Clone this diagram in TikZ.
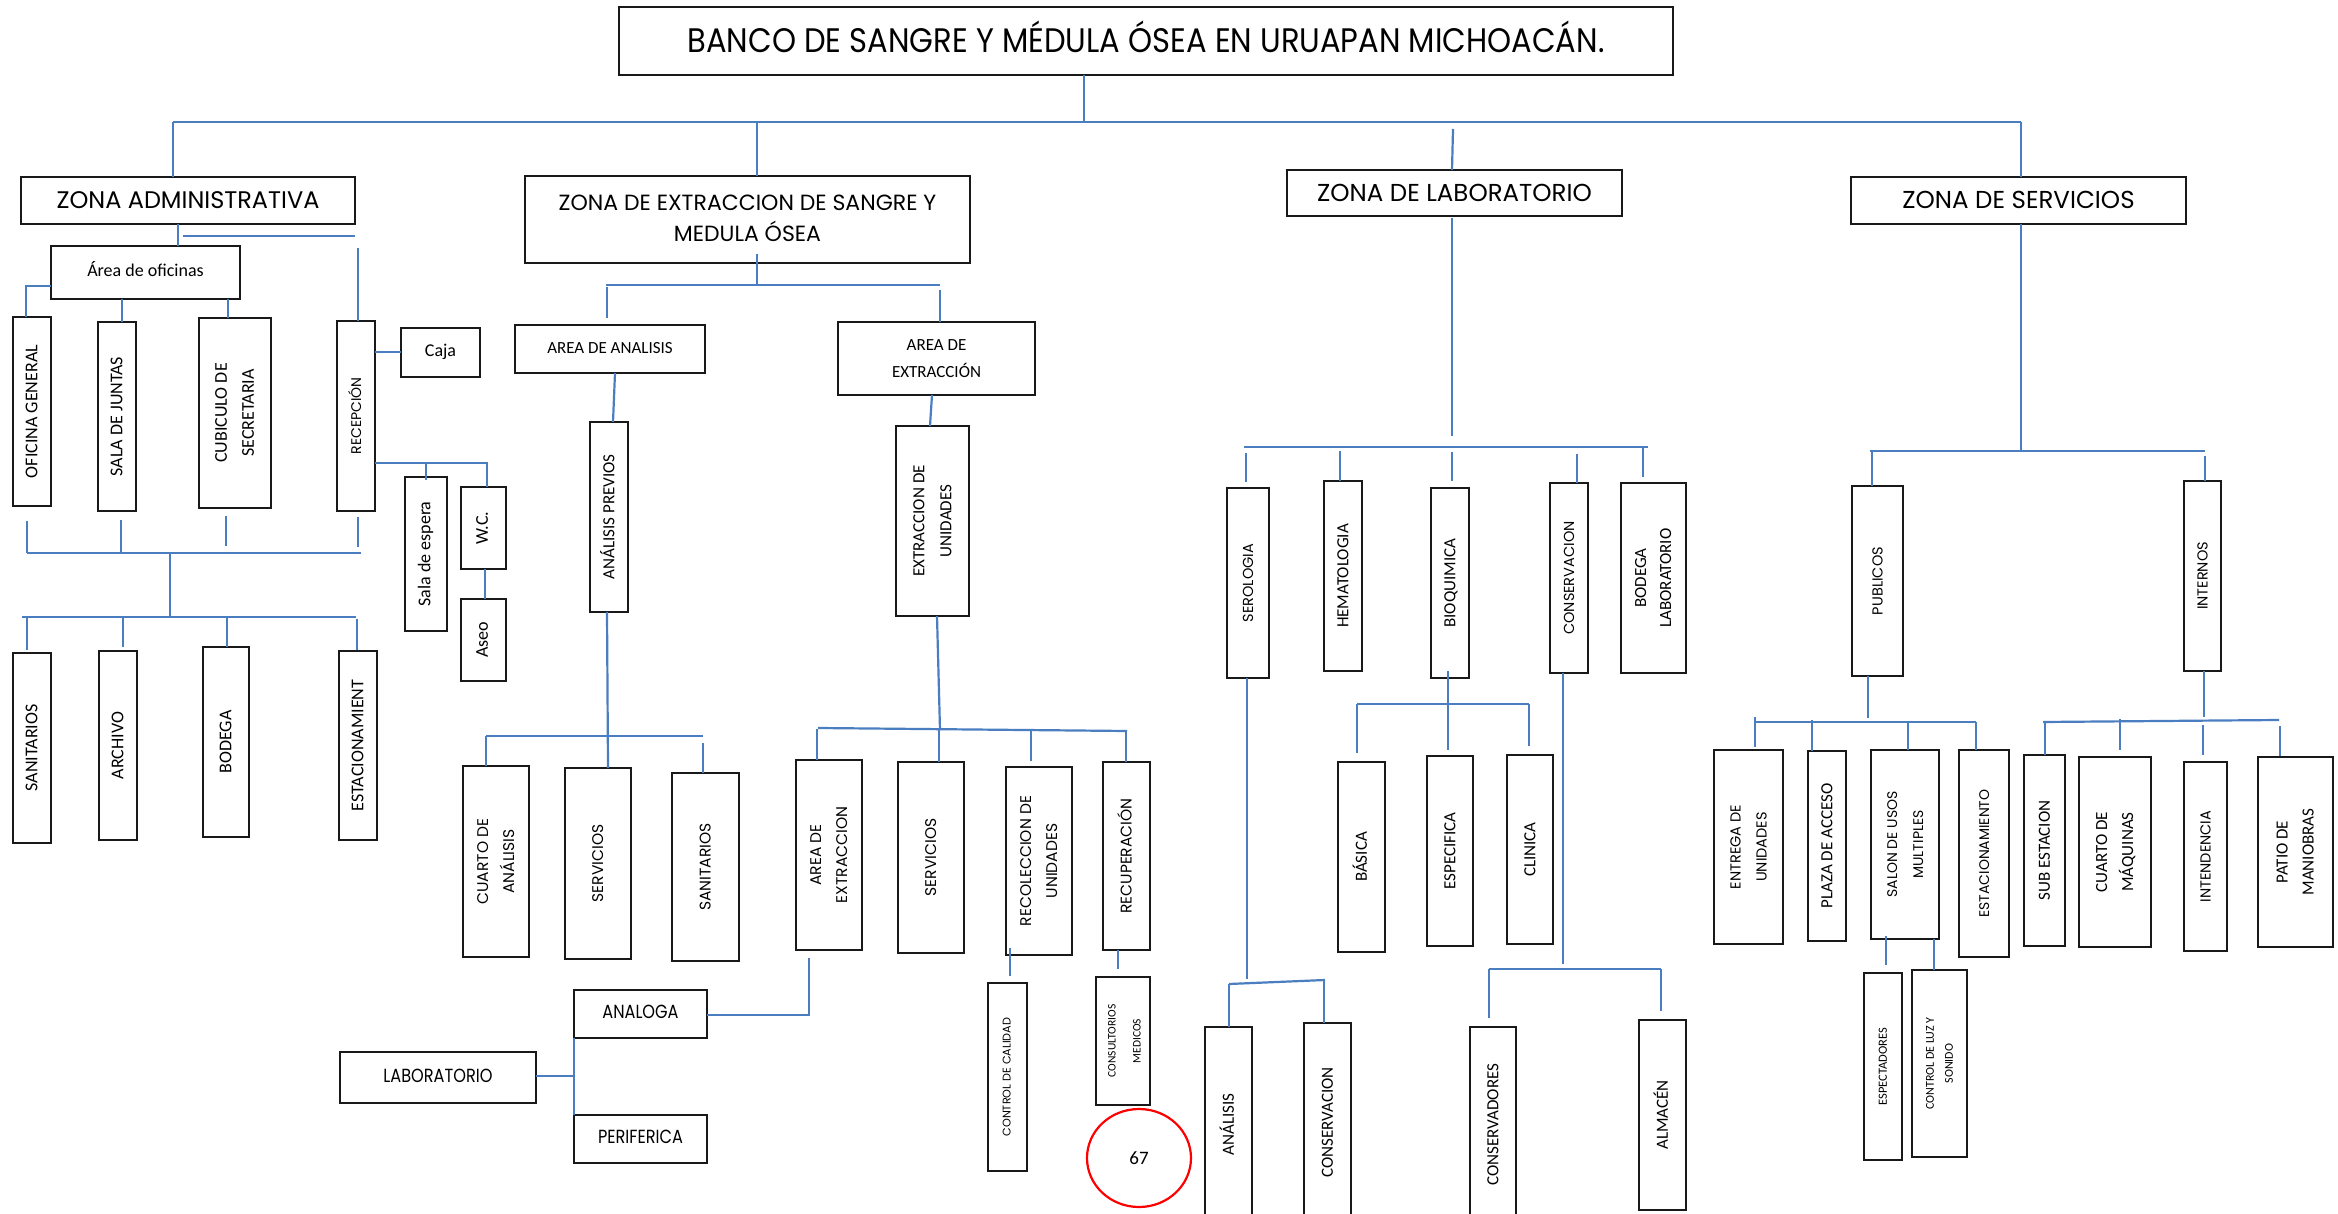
\documentclass[tikz,border=0pt]{standalone}
\usepackage{fontspec}
\setmainfont{Carlito}
\newfontfamily\gothic{Poppins}
\usepackage{graphicx}
\usetikzlibrary{shapes.geometric}
\newcommand\fc[2]{\fontsize{#1}{#2}\selectfont}
\newcommand\fg[2]{\gothic\fontsize{#1}{#2}\selectfont}
\definecolor{lineblue}{RGB}{74,126,193}
\tikzset{
  room/.style={draw=black!90, line width=1.7pt, inner sep=0pt, outer sep=0pt},
  link/.style={draw=lineblue, line width=2.2pt},
}
% box given by its corners, text turned upright
\newcommand\roomv[7]{\node[room, minimum width={(#5-#3)*1pt}, minimum height={(#6-#4)*1pt}] (#1) at ({(#3+#5)/2},{(#4+#6)/2}) {\rotatebox{90}{#2\begin{tabular}{@{}c@{}}#7\end{tabular}}};}
% box given by its corners, horizontal text
\newcommand\roomh[7]{\node[room, minimum width={(#5-#3)*1pt}, minimum height={(#6-#4)*1pt}] (#1) at ({(#3+#5)/2},{(#4+#6)/2}) {#2\begin{tabular}{@{}c@{}}#7\end{tabular}};}
\begin{document}
\begin{tikzpicture}[x=1pt,y=-1pt]
\fill[white] (0,0) rectangle (2338,1214);
\useasboundingbox (0,0) rectangle (2338,1214);

% ---------- title and zones ----------
\roomh{title}{\fg{34}{58}}{619}{7}{1673}{75}{\scalebox{0.9}[1]{BANCO DE SANGRE Y MÉDULA ÓSEA EN URUAPAN MICHOACÁN.}}
\roomh{zadm}{\fg{24}{42}}{21}{177}{355}{224}{ZONA ADMINISTRATIVA}
\roomh{zext}{\fg{22}{31}}{525}{176}{970}{263}{ZONA DE EXTRACCION DE SANGRE Y\\MEDULA ÓSEA}
\roomh{zlab}{\fg{24.5}{42}}{1287}{170}{1622}{216}{ZONA DE LABORATORIO}
\roomh{zser}{\fg{24.5}{42}}{1851}{177}{2186}{224}{ZONA DE SERVICIOS}

\draw[link] (1084,0 |- title.south) -- (1084,122);
\draw[link] (173,122) -- (2021,122);
\draw[link] (173,122) -- (173,0 |- zadm.north);
\draw[link] (757,122) -- (757,0 |- zext.north);
\draw[link] (1453,129) -- (1452,0 |- zlab.north);
\draw[link] (2021,122) -- (2021,0 |- zser.north);

% ---------- zona administrativa ----------
\roomh{areaof}{\fc{18}{22}}{51}{246}{240}{299}{Área de oficinas}
\roomv{ofgen}{\fc{18}{27}}{13}{317}{51}{506}{OFICINA GENERAL}
\roomv{sjunt}{\fc{18}{27}}{98}{322}{136}{511}{SALA DE JUNTAS}
\roomv{cubic}{\fc{18}{27}}{199}{318}{271}{508}{CUBICULO DE\\SECRETARIA}
\roomv{recep}{\fg{14}{26}}{337}{321}{375}{511}{RECEPCIÓN}
\roomh{caja}{\fc{18}{22}}{401}{328}{480}{377}{Caja}
\roomv{espera}{\fc{18}{22}}{405}{477}{447}{631}{Sala de espera}
\roomv{wc}{\fc{18}{22}}{461}{487}{506}{569}{W.C.}
\roomv{aseo}{\fc{18}{22}}{461}{599}{506}{681}{Aseo}
\roomv{sanit}{\fc{18}{27}}{13}{653}{51}{843}{SANITARIOS}
\roomv{archi}{\fc{18}{27}}{99}{651}{137}{840}{ARCHIVO}
\roomv{bodeg}{\fc{18}{27}}{203}{647}{249}{837}{BODEGA}
\roomv{estac}{\fc{18}{27}}{339}{651}{377}{840}{ESTACIONAMIENT}

\draw[link] (178,0 |- zadm.south) -- (178,0 |- areaof.north);
\draw[link] (183,236) -- (355,236);
\draw[link] (358,248) -- (358,0 |- recep.north);
\draw[link] (areaof.west |- 0,286) -- (26,286) -- (26,0 |- ofgen.north);
\draw[link] (122,0 |- areaof.south) -- (122,0 |- sjunt.north);
\draw[link] (228,0 |- areaof.south) -- (228,0 |- cubic.north);
\draw[link] (recep.east |- 0,352) -- (caja.west |- 0,352);
\draw[link] (recep.east |- 0,463) -- (487,463) -- (487,0 |- wc.north);
\draw[link] (426,463) -- (426,480);
\draw[link] (485,0 |- wc.south) -- (485,0 |- aseo.north);
\draw[link] (27,521) -- (27,553);
\draw[link] (121,520) -- (121,553);
\draw[link] (226,516) -- (226,546);
\draw[link] (358,517) -- (358,547);
\draw[link] (27,553) -- (361,553);
\draw[link] (170,553) -- (170,617);
\draw[link] (22,617) -- (356,617);
\draw[link] (27,617) -- (27,650);
\draw[link] (123,617) -- (123,647);
\draw[link] (227,617) -- (227,0 |- bodeg.north);
\draw[link] (357,619) -- (357,650);

% ---------- zona de extraccion ----------
\roomh{aanal}{\fc{17}{22}}{515}{325}{705}{373}{AREA DE ANALISIS}
\roomh{aextr}{\fc{17}{27}}{838}{322}{1035}{395}{AREA DE\\EXTRACCIÓN}
\roomv{aprev}{\fc{17}{27}}{590}{422}{628}{612}{ANÁLISIS PREVIOS}
\roomv{extun}{\fc{17}{27}}{896}{426}{969}{616}{EXTRACCION DE\\UNIDADES}
\roomv{cuart}{\fg{15.5}{26}}{463}{766}{529}{957}{CUARTO DE\\ANÁLISIS}
\roomv{serva}{\fg{15.5}{26}}{565}{768}{631}{959}{SERVICIOS}
\roomv{sanb}{\fg{15.5}{26}}{672}{773}{739}{961}{SANITARIOS}
\roomv{arex}{\fg{15.5}{26}}{796}{760}{862}{950}{AREA DE\\EXTRACCION}
\roomv{servb}{\fg{15.5}{26}}{898}{762}{964}{953}{SERVICIOS}
\roomv{recol}{\fg{15.5}{26}}{1006}{767}{1072}{955}{RECOLECCION DE\\UNIDADES}
\roomv{recup}{\fg{15.5}{26}}{1103}{762}{1150}{950}{RECUPERACIÓN}
\roomh{analo}{\fg{19}{24}}{574}{990}{707}{1038}{\scalebox{0.85}[1]{ANALOGA}}
\roomh{labo}{\fg{19}{24}}{340}{1052}{536}{1103}{\scalebox{0.85}[1]{LABORATORIO}}
\roomh{perif}{\fg{19}{24}}{574}{1115}{707}{1163}{\scalebox{0.85}[1]{PERIFERICA}}
\roomv{ccal}{\fg{11.2}{15}}{988}{983}{1027}{1171}{CONTROL DE CALIDAD}
\roomv{consu}{\fc{11.5}{25}}{1096}{977}{1150}{1105}{CONSULTORIOS\\MEDICOS}
\node[draw=red, line width=2.2pt, ellipse, inner sep=0pt, minimum width=104pt, minimum height=98pt] (pnum) at (1139,1158) {\fc{19}{22}67};

\draw[link] (757,254) -- (757,285);
\draw[link] (606,285) -- (940,285);
\draw[link] (607,287) -- (607,318);
\draw[link] (940,290) -- (940,0 |- aextr.north);
\draw[link] (615,0 |- aanal.south) -- (613,0 |- aprev.north);
\draw[link] (932,0 |- aextr.south) -- (930,0 |- extun.north);
\draw[link] (607,0 |- aprev.south) -- (608,0 |- serva.north);
\draw[link] (486,736) -- (703,736);
\draw[link] (486,736) -- (486,0 |- cuart.north);
\draw[link] (703,743) -- (703,0 |- sanb.north);
\draw[link] (937,0 |- extun.south) -- (940,730);
\draw[link] (818,728) -- (1127,731);
\draw[link] (817,729) -- (817,0 |- arex.north);
\draw[link] (939,730) -- (939,0 |- servb.north);
\draw[link] (1031,731) -- (1031,761);
\draw[link] (1126,731) -- (1126,0 |- recup.north);
\draw[link] (809,958) -- (809,1015) -- (analo.east |- 0,1015);
\draw[link] (labo.east |- 0,1076) -- (574,1076);
\draw[link] (574,0 |- analo.south) -- (574,0 |- perif.north);
\draw[link] (1010,948) -- (1010,976);
\draw[link] (1118,0 |- recup.south) -- (1118,969);

% ---------- zona de laboratorio ----------
\roomv{serol}{\fg{14.5}{26}}{1227}{488}{1269}{678}{SEROLOGIA}
\roomv{hemat}{\fc{17}{27}}{1324}{481}{1362}{671}{HEMATOLOGIA}
\roomv{bioq}{\fc{17}{27}}{1431}{488}{1469}{678}{BIOQUIMICA}
\roomv{conse}{\fg{14.5}{26}}{1550}{483}{1588}{673}{CONSERVACION}
\roomv{bodlab}{\fc{17}{25}}{1621}{483}{1686}{673}{BODEGA\\LABORATORIO}
\roomv{basic}{\fc{17}{27}}{1338}{762}{1385}{952}{BÁSICA}
\roomv{espec}{\fc{17}{27}}{1427}{756}{1473}{946}{ESPECIFICA}
\roomv{clini}{\fc{17}{27}}{1507}{755}{1553}{944}{CLINICA}
\roomv{anali}{\fc{17}{27}}{1205}{1027}{1252}{1222}{ANÁLISIS}
\roomv{consb}{\fc{17}{27}}{1304}{1023}{1351}{1222}{CONSERVACION}
\roomv{consd}{\fc{17}{27}}{1470}{1027}{1516}{1222}{CONSERVADORES}
\roomv{almac}{\fc{17}{27}}{1639}{1020}{1686}{1210}{ALMACÉN}

\draw[link] (1452,218) -- (1452,436);
\draw[link] (1244,447) -- (1648,447);
\draw[link] (1246,453) -- (1246,482);
\draw[link] (1340,451) -- (1340,0 |- hemat.north);
\draw[link] (1452,452) -- (1452,481);
\draw[link] (1577,454) -- (1577,0 |- conse.north);
\draw[link] (1643,447) -- (1643,477);
\draw[link] (1247,0 |- serol.south) -- (1247,979);
\draw[link] (1229,984) -- (1325,980);
\draw[link] (1229,984) -- (1229,0 |- anali.north);
\draw[link] (1324,980) -- (1324,0 |- consb.north);
\draw[link] (1448,671) -- (1448,750);
\draw[link] (1357,704) -- (1529,704);
\draw[link] (1357,704) -- (1357,753);
\draw[link] (1529,704) -- (1529,746);
\draw[link] (1563,0 |- conse.south) -- (1563,964);
\draw[link] (1489,969) -- (1661,969);
\draw[link] (1489,969) -- (1489,1018);
\draw[link] (1661,969) -- (1661,1011);

% ---------- zona de servicios ----------
\roomv{publi}{\fg{14.5}{26}}{1852}{486}{1903}{676}{PUBLICOS}
\roomv{inter}{\fg{14.5}{26}}{2184}{481}{2221}{671}{INTERNOS}
\roomv{entre}{\fg{14.5}{26}}{1714}{750}{1783}{944}{ENTREGA DE\\UNIDADES}
\roomv{plaza}{\fc{17}{27}}{1808}{751}{1846}{941}{PLAZA DE ACCESO}
\roomv{salon}{\fg{14}{26}}{1871}{750}{1939}{939}{SALON DE USOS\\MULTIPLES}
\roomv{estb}{\fg{14}{26}}{1959}{750}{2009}{957}{ESTACIONAMIENTO}
\roomv{subes}{\fc{17}{27}}{2024}{755}{2065}{946}{SUB ESTACION}
\roomv{maqui}{\fc{17}{26}}{2079}{757}{2151}{947}{CUARTO DE\\MÁQUINAS}
\roomv{inten}{\fg{14.5}{26}}{2184}{762}{2227}{951}{INTENDENCIA}
\roomv{patio}{\fc{17}{26}}{2258}{757}{2333}{947}{PATIO DE\\MANIOBRAS}
\roomv{espect}{\fc{12.5}{19}}{1864}{973}{1902}{1160}{ESPECTADORES}
\roomv{luz}{\fc{12}{19}}{1912}{970}{1967}{1157}{CONTROL DE LUZ Y\\SONIDO}

\draw[link] (2021,0 |- zser.south) -- (2021,451);
\draw[link] (1870,451) -- (2205,451);
\draw[link] (1872,451) -- (1872,0 |- publi.north);
\draw[link] (2205,456) -- (2205,0 |- inter.north);
\draw[link] (1868,0 |- publi.south) -- (1868,718);
\draw[link] (1755,722) -- (1976,722);
\draw[link] (1755,717) -- (1755,747);
\draw[link] (1812,720) -- (1812,0 |- plaza.north);
\draw[link] (1908,721) -- (1908,0 |- salon.north);
\draw[link] (1976,722) -- (1976,0 |- estb.north);
\draw[link] (2204,0 |- inter.south) -- (2204,717);
\draw[link] (2043,722) -- (2279,720);
\draw[link] (2045,722) -- (2045,0 |- subes.north);
\draw[link] (2120,719) -- (2120,750);
\draw[link] (2203,725) -- (2203,755);
\draw[link] (2280,726) -- (2280,756);
\draw[link] (1886,936) -- (1886,965);
\draw[link] (1934,0 |- salon.south) -- (1934,0 |- luz.north);
\end{tikzpicture}
\end{document}
